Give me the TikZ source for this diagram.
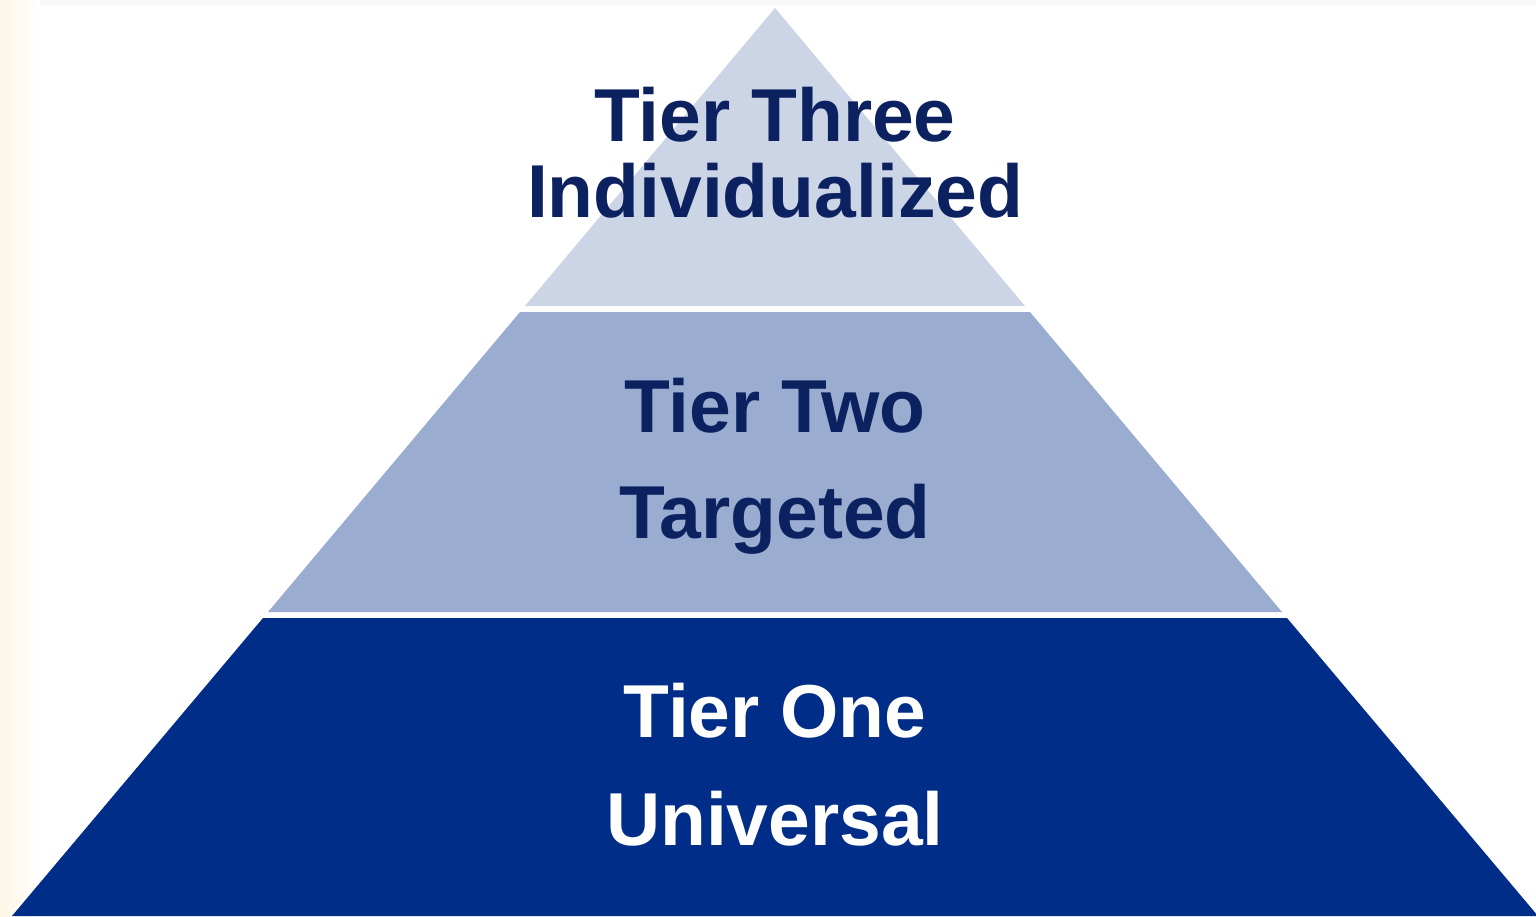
\documentclass[tikz,border=0pt]{standalone}
\usepackage{fontspec}
\setmainfont{Liberation Sans}
\usepackage{xcolor}
\usepackage{tikz}
\usetikzlibrary{positioning}

\definecolor{tieronefill}{RGB}{0,45,135}
\definecolor{tiertwofill}{RGB}{154,173,208}
\definecolor{tierthreefill}{RGB}{204,213,230}
\definecolor{tiertext}{RGB}{12,33,96}
\definecolor{topstrip}{RGB}{247,248,250}
\definecolor{creamedge}{RGB}{253,245,230}

\begin{document}
\begin{tikzpicture}[
                x=1pt, y=-1pt,
                label/.style={anchor=base, inner sep=0pt, font=\fontsize{75}{75}\selectfont\bfseries, text=tiertext},
                labelwhite/.style={label, text=white}
            ]
                \useasboundingbox (0,0) rectangle (1536,916);
                \fill[white] (0,0) rectangle (1536,916);
                % faint page edges
                \fill[topstrip] (0,0) rectangle (1536,5);
                \shade[left color=creamedge, right color=white] (0,0) rectangle (40,916);

                % pyramid layers
                \fill[tierthreefill] (775,8) -- (1025,306) -- (525,306) -- cycle;
                \fill[tiertwofill] (520,312) -- (1030,312) -- (1282,612) -- (268,612) -- cycle;
                \fill[tieronefill] (263,618) -- (1287,618) -- (1538,916) -- (12,916) -- cycle;

                \node[label] (three) at (775,141) {Tier Three};
                \node[label] (threesub) at (775,217) {Individualized};
                \node[label] (two) at (775,432) {Tier Two};
                \node[label] (twosub) at (775,538) {Targeted};
                \node[labelwhite] (one) at (775,737) {Tier One};
                \node[labelwhite] (onesub) at (775,845) {Universal};
            \end{tikzpicture}
\end{document}
